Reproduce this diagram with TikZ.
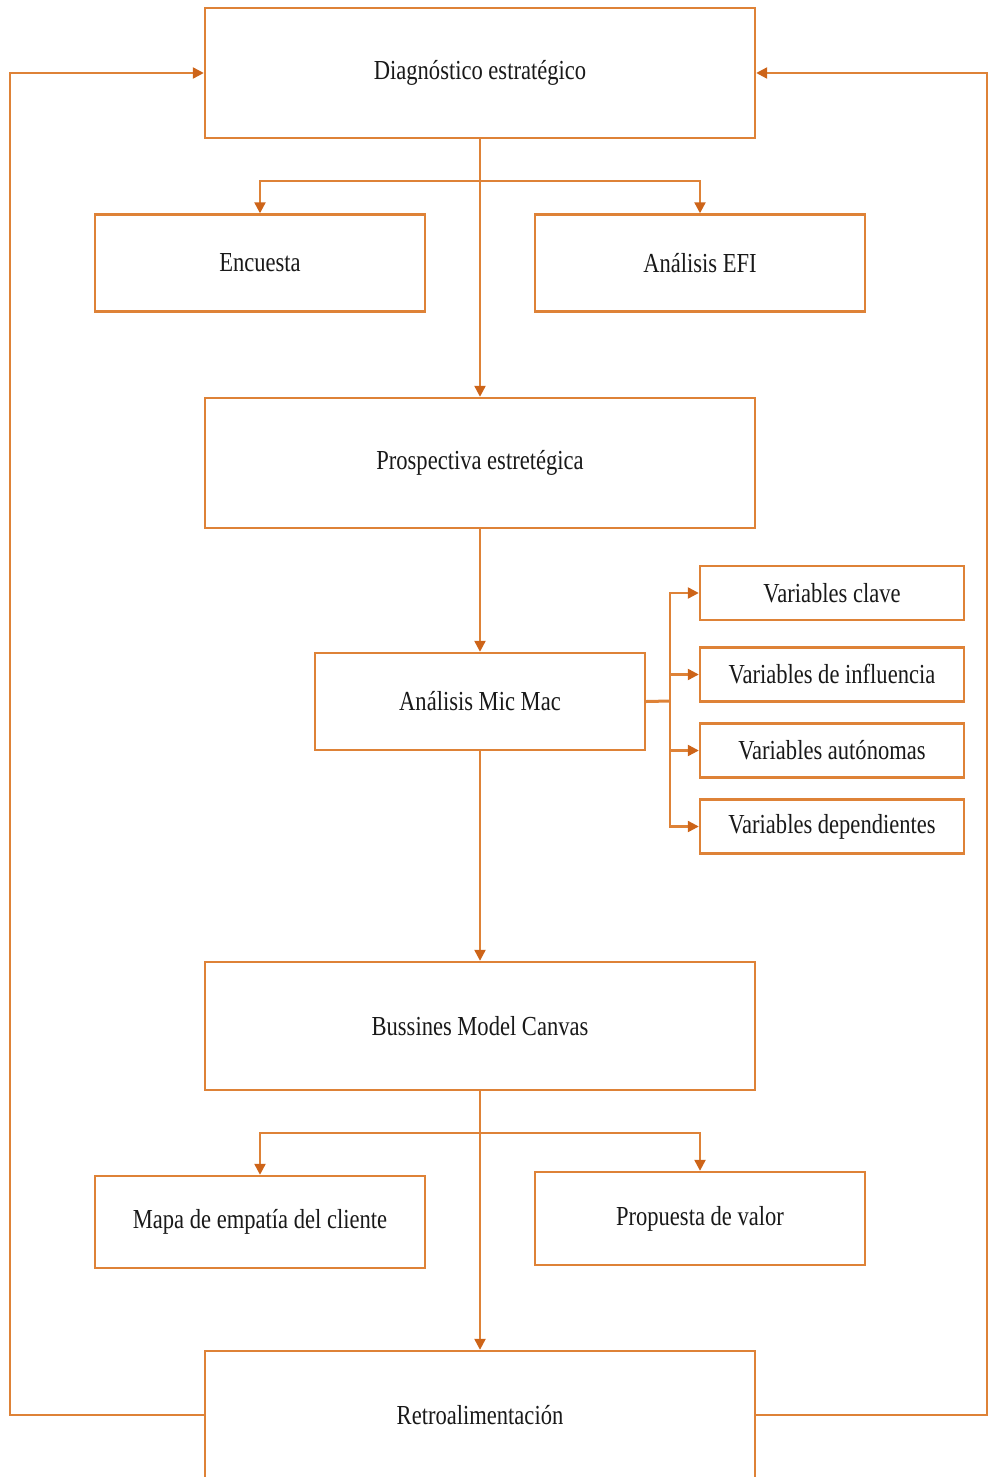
\documentclass[tikz,border=0pt]{standalone}
\usepackage{fontspec}
\setmainfont{Liberation Serif}[FakeStretch=0.82]
\usetikzlibrary{arrows.meta}
\definecolor{ln}{RGB}{222,130,55}
\definecolor{ah}{RGB}{205,100,25}
\tikzset{
  box/.style={draw=ln, line width=2.4pt, fill=white, inner sep=0pt,
    font=\fontsize{27.5}{30}\selectfont, text=black!90},
  big/.style={minimum width=550pt, minimum height=130pt},
  mid/.style={minimum width=330pt, minimum height=97pt},
  var/.style={minimum width=264pt, minimum height=54pt},
  line/.style={draw=ln, line width=2.3pt},
  conn/.style={line, -{Triangle[length=11pt,width=11pt,color=ah]}}
}
\begin{document}
\begin{tikzpicture}[x=1pt,y=-1pt]
\useasboundingbox (0,0) rectangle (989,1477);
\clip (0,0) rectangle (989,1477);
\node[box, big] (diag) at (480,73) {Diagnóstico estratégico};
\node[box, mid] (enc) at (260,263) {Encuesta};
\node[box, mid] (efi) at (700,263) {Análisis EFI};
\node[box, big] (pros) at (480,463) {Prospectiva estretégica};
\node[box, mid] (mic) at (480,701.5) {Análisis Mic Mac};
\node[box, var] (v1) at (832,593) {Variables clave};
\node[box, var] (v2) at (832,674.5) {Variables de influencia};
\node[box, var] (v3) at (832,750.5) {Variables autónomas};
\node[box, var] (v4) at (832,826.5) {Variables dependientes};
\node[box, big, minimum height=128pt] (bmc) at (480,1026) {Bussines Model Canvas};
\node[box, mid, minimum height=92pt] (mapa) at (260,1222) {Mapa de empatía del cliente};
\node[box, mid, minimum height=93pt] (prop) at (700,1218.5) {Propuesta de valor};
\node[box, big, minimum height=128pt] (retro) at (480,1415) {Retroalimentación};

\coordinate (b1) at (480,181);
\coordinate (b2) at (670,701);
\coordinate (b3) at (480,1133);
\coordinate (lc) at (10,1415);
\coordinate (rc) at (987,1415);

\draw[conn] (diag.south) -- (pros.north);
\draw[conn] (b1) -| (enc.north);
\draw[conn] (b1) -| (efi.north);
\draw[conn] (pros.south) -- (mic.north);
\draw[line, line width=3pt] (mic.east) -- (b2);
\foreach \v in {v1,v2,v3,v4} {\draw[conn] (b2) |- (\v.west);}
\draw[conn] (mic.south) -- (bmc.north);
\draw[conn] (bmc.south) -- (retro.north);
\draw[conn] (b3) -| (mapa.north);
\draw[conn] (b3) -| (prop.north);
\draw[conn] (retro.west) -- (lc) |- (diag.west);
\draw[conn] (retro.east) -- (rc) |- (diag.east);
\end{tikzpicture}
\end{document}
